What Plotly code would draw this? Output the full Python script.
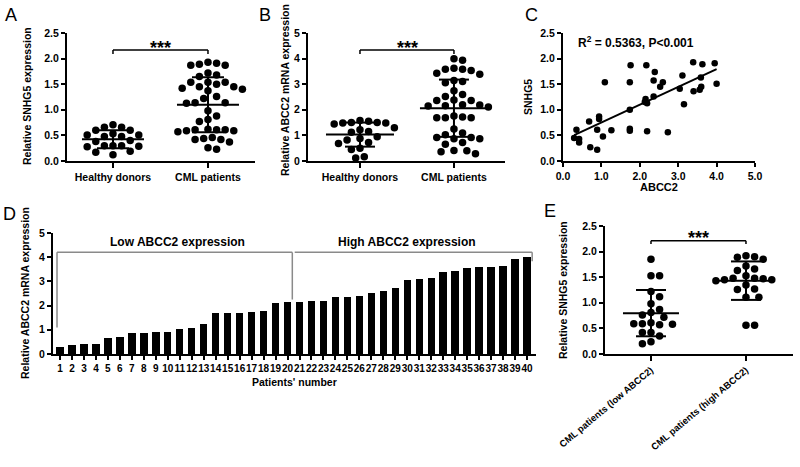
import numpy as np
import plotly.graph_objects as go

W, H = 800, 467
FONT = "Liberation Sans"

# ---------------- data ----------------
a_groups = ["Healthy donors", "CML patients"]
a_healthy = [0.71, 0.66, 0.66, 0.60, 0.60, 0.53, 0.51, 0.51, 0.48, 0.48,
             0.40, 0.38, 0.30, 0.30, 0.30, 0.29, 0.28, 0.19, 0.17, 0.12]
a_cml = [1.93, 1.91, 1.89, 1.87, 1.87, 1.72, 1.68, 1.65, 1.54, 1.54,
         1.54, 1.50, 1.45, 1.45, 1.42, 1.40, 1.37, 1.26, 1.22, 1.14,
         1.14, 1.13, 0.98, 0.88, 0.81, 0.77, 0.62, 0.61, 0.61, 0.61,
         0.59, 0.59, 0.57, 0.46, 0.44, 0.42, 0.42, 0.37, 0.26, 0.23]

b_groups = ["Healthy donors", "CML patients"]
b_healthy = [1.58, 1.55, 1.50, 1.50, 1.48, 1.48, 1.45, 1.30, 1.22, 1.15,
             1.12, 0.95, 0.88, 0.82, 0.72, 0.68, 0.50, 0.45, 0.17, 0.12]

c_abcc2 = [0.29, 0.35, 0.42, 0.42, 0.68, 0.71, 0.89, 0.89, 0.94, 0.94,
           1.04, 1.09, 1.26, 1.74, 1.74, 1.74, 1.74, 1.76, 2.17, 2.15,
           2.13, 2.19, 2.19, 2.39, 2.36, 2.36, 2.60, 2.53, 2.73, 3.04,
           3.11, 3.15, 3.39, 3.40, 3.56, 3.59, 3.60, 3.63, 3.95, 4.00]
c_snhg5 = [0.45, 0.61, 0.43, 0.36, 0.77, 0.27, 0.61, 0.22, 0.87, 0.82,
           0.48, 1.54, 0.60, 1.54, 1.00, 0.63, 0.59, 1.87, 1.87, 1.21,
           1.15, 1.13, 0.58, 1.74, 1.57, 1.26, 1.54, 1.45, 0.56, 1.41,
           1.67, 1.11, 1.93, 1.36, 1.39, 1.63, 1.45, 1.89, 1.91, 1.51]
c_label = "R<sup>2</sup> = 0.5363, P&lt;0.001"

d_patients = list(range(1, 41))
d_abcc2 = [0.28, 0.36, 0.40, 0.41, 0.65, 0.72, 0.87, 0.87, 0.92, 0.92,
           1.03, 1.09, 1.25, 1.69, 1.69, 1.69, 1.72, 1.76, 2.11, 2.15,
           2.16, 2.19, 2.20, 2.36, 2.36, 2.38, 2.52, 2.60, 2.74, 3.06,
           3.11, 3.14, 3.39, 3.43, 3.54, 3.58, 3.58, 3.62, 3.94, 3.99]
d_group_labels = ["Low ABCC2 expression", "High ABCC2 expression"]

e_groups = ["CML patients (low ABCC2)", "CML patients (high ABCC2)"]
e_low = [1.85, 1.53, 1.53, 1.22, 1.12, 0.98, 0.87, 0.81, 0.76, 0.72,
         0.59, 0.57, 0.61, 0.59, 0.58, 0.42, 0.42, 0.35, 0.24, 0.20]
e_high = [1.90, 1.85, 1.89, 1.92, 1.72, 1.63, 1.66, 1.53, 1.45, 1.45,
          1.43, 1.47, 1.48, 1.48, 1.35, 1.26, 1.27, 1.11, 1.11, 0.56, 0.56]

# ---------------- geometry (pixels) ----------------
panels = {
    "A": dict(px=(67, 255), py=(33, 161), xr=(0.516, 2.495), yr=(0, 2.5)),
    "B": dict(px=(308, 505), py=(33, 161), xr=(0.447, 2.543), yr=(0, 5)),
    "C": dict(px=(563, 755), py=(33, 161), xr=(0, 5), yr=(0, 2.5)),
    "D": dict(px=(53, 536), py=(233, 354), xr=(0.415, 40.75), yr=(0, 5)),
    "E": dict(px=(605, 793), py=(226, 354), xr=(0.516, 2.495), yr=(0, 2.5)),
}
names = ["A", "B", "C", "D", "E"]
axid = {n: i + 1 for i, n in enumerate(names)}


def scales(n):
    p = panels[n]
    sx = (p["px"][1] - p["px"][0]) / (p["xr"][1] - p["xr"][0])
    sy = (p["py"][1] - p["py"][0]) / (p["yr"][1] - p["yr"][0])
    return sx, sy


def swarm(values, center, n, d=8.6):
    sx, sy = scales(n)
    vals = np.asarray(values, float)
    order = np.argsort(-vals)
    placed = []
    xs = np.zeros(len(vals))
    steps = [0.0]
    for k in range(1, 30):
        steps += [k * d / 2, -k * d / 2]
    for i in order:
        yp = vals[i] * sy
        for off in steps:
            ok = all((off - px) ** 2 + (yp - py) ** 2 >= d * d * 0.98 for px, py in placed)
            if ok:
                placed.append((off, yp))
                xs[i] = center + off / sx
                break
    return xs


fig = go.Figure()
shapes = []
annotations = []


def ref(n):
    i = axid[n]
    return ("x" if i == 1 else f"x{i}"), ("y" if i == 1 else f"y{i}")


def seg(n, x0, y0, x1, y1, color="black", width=2):
    xr_, yr_ = ref(n)
    shapes.append(dict(type="line", xref=xr_, yref=yr_, x0=x0, y0=y0, x1=x1, y1=y1,
                       line=dict(color=color, width=width)))


def ann(text, px, py, size=10.5, bold=True, angle=0, xanchor="center", yanchor="middle"):
    annotations.append(dict(text=text, x=px / W, y=1 - py / H, xref="paper", yref="paper",
                            showarrow=False, textangle=angle, xanchor=xanchor, yanchor=yanchor,
                            font=dict(family=FONT, size=size, color="black",
                                      weight="bold" if bold else "normal")))


def dotplot(n, groups_vals, mean_half_px, cap_half_px):
    sx, _ = scales(n)
    xr_, yr_ = ref(n)
    for gi, vals in enumerate(groups_vals):
        c = gi + 1
        xs = swarm(vals, c, n)
        fig.add_trace(go.Scatter(x=xs, y=vals, mode="markers", xaxis=xr_, yaxis=yr_,
                                 marker=dict(color="black", size=7.5), showlegend=False,
                                 cliponaxis=False))
        m = float(np.mean(vals))
        s = float(np.std(vals, ddof=1))
        mh = mean_half_px / sx
        ch = cap_half_px / sx
        seg(n, c - mh, m, c + mh, m)
        seg(n, c, m - s, c, m + s)
        seg(n, c - ch, m + s, c + ch, m + s)
        seg(n, c - ch, m - s, c + ch, m - s)


def bracket(n, ytop, ybot):
    seg(n, 1, ybot, 1, ytop, width=1.5)
    seg(n, 1, ytop, 2, ytop, width=1.5)
    seg(n, 2, ytop, 2, ybot, width=1.5)


# A
dotplot("A", [a_healthy, a_cml], 31, 16)
bracket("A", 2.17, 2.09)
# B
dotplot("B", [b_healthy, d_abcc2], 34, 15)
bracket("B", 4.34, 4.18)
# E
dotplot("E", [e_low, e_high], 28, 15)
bracket("E", 2.21, 2.15)

# C scatter + regression
xr_, yr_ = ref("C")
fig.add_trace(go.Scatter(x=c_abcc2, y=c_snhg5, mode="markers", xaxis=xr_, yaxis=yr_,
                         marker=dict(color="black", size=6.5), showlegend=False))
slope, icpt = np.polyfit(c_abcc2, c_snhg5, 1)
xl = np.array([min(c_abcc2), max(c_abcc2)])
fig.add_trace(go.Scatter(x=xl, y=slope * xl + icpt, mode="lines", xaxis=xr_, yaxis=yr_,
                         line=dict(color="black", width=2), showlegend=False))

# D bars
xr_, yr_ = ref("D")
fig.add_trace(go.Bar(x=d_patients, y=d_abcc2, xaxis=xr_, yaxis=yr_, width=0.62,
                     marker=dict(color="black", line=dict(width=0)), showlegend=False))
gray = "#8a8a8a"
seg("D", 0.75, 1.1, 0.75, 4.2, color=gray, width=1.5)
seg("D", 0.75, 4.2, 20.4, 4.2, color=gray, width=1.5)
seg("D", 20.4, 4.2, 20.4, 2.25, color=gray, width=1.5)
seg("D", 20.6, 4.2, 40.43, 4.2, color=gray, width=1.5)
seg("D", 40.43, 4.2, 40.43, 3.83, color=gray, width=1.5)

# ---------------- axes ----------------
layout_axes = {}
for n in names:
    p = panels[n]
    i = axid[n]
    xk = "xaxis" if i == 1 else f"xaxis{i}"
    yk = "yaxis" if i == 1 else f"yaxis{i}"
    common = dict(showline=True, linecolor="black", linewidth=2, ticks="outside",
                  tickwidth=2, ticklen=4, tickcolor="black", showgrid=False, zeroline=False,
                  automargin=False,
                  tickfont=dict(family=FONT, size=10.5, color="black", weight="bold"))
    layout_axes[xk] = dict(common, domain=[p["px"][0] / W, p["px"][1] / W],
                           range=list(p["xr"]), anchor=yk[0] + yk[5:], fixedrange=True)
    layout_axes[yk] = dict(common, domain=[1 - p["py"][1] / H, 1 - p["py"][0] / H],
                           range=list(p["yr"]), anchor=xk[0] + xk[5:], fixedrange=True)

layout_axes["xaxis"].update(tickvals=[1, 2], ticktext=a_groups, ticklen=5)
layout_axes["yaxis"].update(tickvals=[0, 0.5, 1, 1.5, 2, 2.5], tickformat=".1f")
layout_axes["xaxis2"].update(tickvals=[1, 2], ticktext=b_groups, ticklen=5)
layout_axes["yaxis2"].update(tickvals=[0, 1, 2, 3, 4, 5])
layout_axes["xaxis3"].update(tickvals=[0, 1, 2, 3, 4, 5], tickformat=".1f")
layout_axes["yaxis3"].update(tickvals=[0, 0.5, 1, 1.5, 2, 2.5], tickformat=".1f")
layout_axes["xaxis4"].update(tickvals=d_patients, tickangle=0,
                             tickfont=dict(family=FONT, size=10, color="black", weight="bold"))
layout_axes["yaxis4"].update(tickvals=[0, 1, 2, 3, 4, 5])
layout_axes["xaxis5"].update(tickvals=[1, 2], ticktext=e_groups, tickangle=-40, ticklen=5,
                             tickfont=dict(family=FONT, size=9.5, color="black", weight="bold"))
layout_axes["yaxis5"].update(tickvals=[0, 0.5, 1, 1.5, 2, 2.5], tickformat=".1f")

# ---------------- text ----------------
for lab, (x, y) in {"A": (11, 15), "B": (265, 15), "C": (531, 15),
                    "D": (9, 214), "E": (550, 211)}.items():
    ann(lab, x, y, size=18, bold=False)

ann("Relative SNHG5 expression", 27, 96, angle=-90)
ann("Relative ABCC2 mRNA expression", 285, 90, angle=-90)
ann("SNHG5", 528, 97, angle=-90)
ann("ABCC2", 659, 187, size=11)
ann(c_label, 576, 42, size=12, xanchor="left")
ann("Relative ABCC2 mRNA expression", 25, 293, angle=-90)
ann("Patients' number", 294, 382)
ann(d_group_labels[0], 177, 242, size=12)
ann(d_group_labels[1], 407, 242, size=12)
ann("Relative SNHG5 expression", 563, 290, angle=-90)
ann("***", 160, 48, size=18)
ann("***", 407, 48, size=18)
ann("***", 698, 238, size=18)

fig.update_layout(template="none", width=W, height=H, margin=dict(l=0, r=0, t=0, b=0),
                  paper_bgcolor="white", plot_bgcolor="white", bargap=0,
                  shapes=shapes, annotations=annotations, **layout_axes)

fig.write_html("out.html", config={"displayModeBar": False},
               post_script="document.body.style.margin='0px';document.body.style.padding='0px';")
